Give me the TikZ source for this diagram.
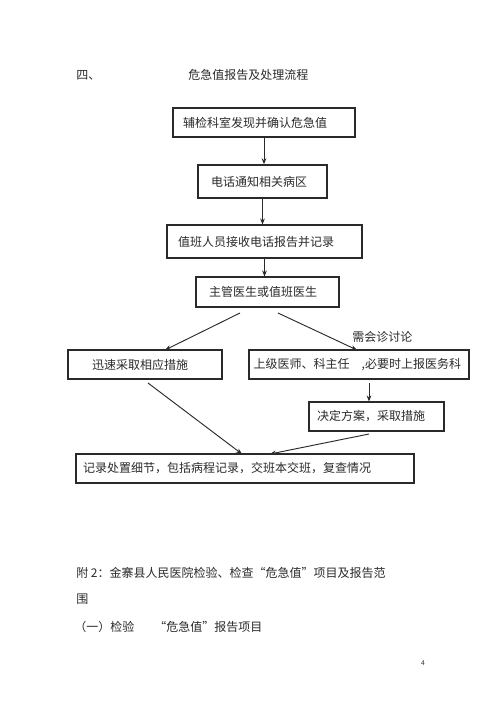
\documentclass[tikz,border=0pt]{standalone}
\usepackage{fontspec}
\newfontfamily\cjk{Noto Sans CJK SC}
\usetikzlibrary{arrows.meta}
\definecolor{ink}{HTML}{2A2A2A}
\tikzset{
  txt/.style={font=\cjk\fontsize{9}{11}\selectfont, text=ink, inner sep=0pt},
  box/.style={draw=ink, line width=0.8pt, txt, align=left, inner ysep=0pt, minimum height=21.75pt, anchor=center},
  arr/.style={draw=ink, line width=0.7pt, -{Stealth[length=4.5pt,width=3.5pt]}},
}
\begin{document}
\begin{tikzpicture}[x=0.75pt,y=-0.75pt]
\useasboundingbox[fill=white] (0,0) rectangle (500,707);
% header
\node[txt, anchor=west] (h1) at (76,75) {四、};
\node[txt, anchor=west] (h2) at (188,75) {危急值报告及处理流程};
% boxes
\node[box, text width=121.5pt, inner xsep=7.5pt] (b1) at (264,122.5) {辅检科室发现并确认危急值};
\node[box, text width=77.25pt, inner xsep=9.75pt, minimum height=24.75pt, line width=1.1pt] (b2) at (262.5,181.5) {电话通知相关病区};
\node[box, text width=129.75pt, inner xsep=8.25pt, minimum height=24.75pt] (b3) at (264.5,241.5) {值班人员接收电话报告并记录};
\node[box, text width=87.75pt, inner xsep=9.75pt, minimum height=22.5pt] (b4) at (267.5,292) {主管医生或值班医生};
\node[box, text width=79.5pt, inner xsep=18pt] (b5) at (145,364.5) {迅速采取相应措施};
\node[box, text width=158pt, inner xsep=3.5pt] (b6) at (359,364.5) {上级医师、科主任\hspace{9pt},必要时上报医务科};
\node[box, text width=89.25pt, inner xsep=6pt] (b7) at (376.5,416.5) {决定方案，采取措施};
\node[box, text width=243pt, inner xsep=5.25pt, line width=1.1pt] (b8) at (245,468.5) {记录处置细节，包括病程记录，交班本交班，复查情况};
% label
\node[txt, anchor=west] (lab) at (352,337) {需会诊讨论};
% connector free ends
\coordinate (s1) at (240,313);
\coordinate (s2) at (278,313);
\coordinate (e1) at (165,350);
\coordinate (e2) at (357,350);
\coordinate (s3) at (148,383);
\coordinate (e3) at (242,454);
\coordinate (s4) at (369,383);
\coordinate (s5) at (369,434);
\coordinate (e5) at (270,454);
% connectors
\draw[arr] (b1.south) -- (b1.south |- b2.north);
\draw[arr] (b2.south) -- (b2.south |- b3.north);
\draw[arr] (b3.south) -- (b3.south |- b4.north);
\draw[arr] (s1) -- (e1);
\draw[arr] (s2) -- (e2);
\draw[arr] (s4) -- (s4 |- b7.north);
\draw[arr] (s3) -- (e3);
\draw[arr] (s5) -- (e5);
% bottom text
\node[txt, anchor=west] (t1) at (76,573) {附 2：金寨县人民医院检验、检查“危急值”项目及报告范};
\node[txt, anchor=west] (t2) at (76,599) {围};
\node[txt, anchor=west] (t3) at (74,627) {（一）检验\hspace{15pt}“危急值”报告项目};
\node[txt, anchor=center, font=\cjk\fontsize{5}{6}\selectfont] (pg) at (423,663) {4};
\end{tikzpicture}
\end{document}
